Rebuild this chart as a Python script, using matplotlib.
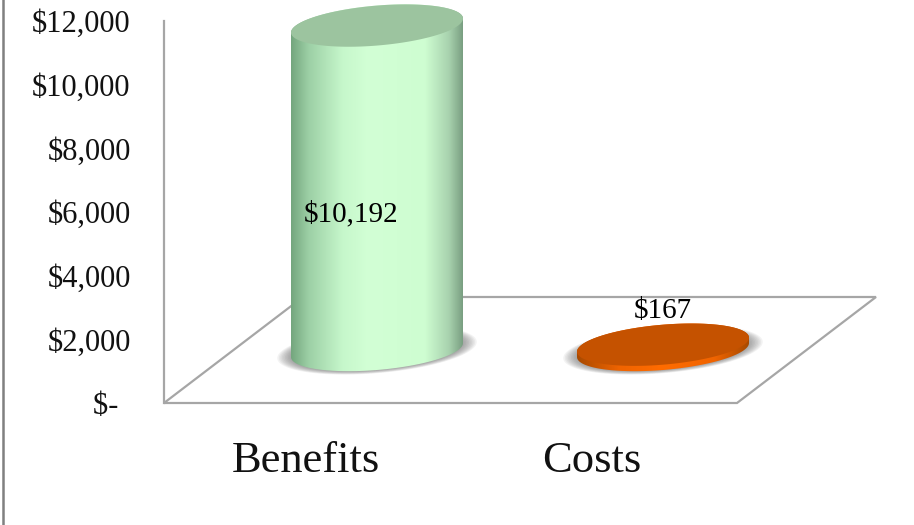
import numpy as np
import matplotlib
matplotlib.use("Agg")
import matplotlib.pyplot as plt
from matplotlib.colors import LinearSegmentedColormap
from matplotlib.lines import Line2D
from matplotlib.patches import Polygon
from matplotlib.transforms import ScaledTranslation

categories = ["Benefits", "Costs"]
values = [10192, 167]
value_labels = ["$10,192", "$167"]
yticks = [0, 2000, 4000, 6000, 8000, 10000, 12000]
yticklabels = ["$-  ", "$2,000", "$4,000", "$6,000", "$8,000", "$10,000", "$12,000"]

plt.rcParams["font.family"] = ["Liberation Serif", "DejaVu Serif"]

W, H = 914, 525
fig = plt.figure(figsize=(W / 100, H / 100), dpi=100)

# axes box in pixels, x unit = distance between the two cylinders
left, right, top, bottom = 164, 900, 21, 403
ax = fig.add_axes([left / W, 1 - bottom / H, (right - left) / W, (bottom - top) / H])
px_per_cat = 286.0
px_per_val = (bottom - top) / 12000.0
ax.set_xlim((left - 377) / px_per_cat, (right - 377) / px_per_cat)
ax.set_ylim(0, 12000)

# fake 3d settings
half_w = 86 / px_per_cat
half_h = 20 / px_per_val
tilt = 7 / px_per_val
floor_y = 53 / px_per_val
label_shift = 0.25
xf0 = (left - 377) / px_per_cat
xf1 = (737 - 377) / px_per_cat
xf2 = (876 - 377) / px_per_cat
xf3 = (303 - 377) / px_per_cat
yf_back = 106 / px_per_val


def ellipse(cx, cy, scale=1.0, t=None):
    if t is None:
        t = np.linspace(0, 2 * np.pi, 200)
    xs = cx + scale * half_w * np.cos(t)
    ys = cy + scale * (half_h * np.sin(t) + tilt * np.cos(t))
    return np.column_stack([xs, ys])


# floor
ax.add_patch(Polygon([(xf0, 0), (xf1, 0), (xf2, yf_back), (xf3, yf_back)], closed=True,
                     facecolor="white", edgecolor="#a6a6a6", lw=1.6, clip_on=False, zorder=1))

maps = [
    LinearSegmentedColormap.from_list("g", [(0, "#74a67e"), (0.1, "#9ccfa5"), (0.3, "#c6f7cb"), (0.45, "#d2ffd5"),
                                            (0.78, "#cefdd1"), (0.92, "#a8d2ae"), (1, "#7a9f82")]),
    LinearSegmentedColormap.from_list("o", [(0, "#a84a00"), (0.25, "#f06400"), (0.5, "#ff6c00"),
                                            (0.8, "#f06400"), (1, "#a84a00")]),
]
top_colors = ["#9cc49f", "#c55200"]
grad = np.linspace(0, 1, 256).reshape(1, -1)

for i, v in enumerate(values):
    # soft shadow round the foot
    for s in np.linspace(1.16, 1.0, 10):
        ax.add_patch(Polygon(ellipse(i, floor_y, s), closed=True, facecolor="#555555", alpha=0.07,
                             edgecolor="none", clip_on=False, zorder=2))
    low = ellipse(i, floor_y, 1.0, np.linspace(np.pi, 2 * np.pi, 100))
    up = ellipse(i, floor_y + v, 1.0, np.linspace(0, np.pi, 100))
    body = Polygon(np.vstack([low, up]), closed=True, transform=ax.transData, facecolor="none", edgecolor="none")
    ax.add_patch(body)
    body.set_clip_on(False)
    im = ax.imshow(grad, cmap=maps[i], aspect="auto", zorder=3,
                   extent=[i - half_w, i + half_w, 0, floor_y + v + half_h + tilt])
    im.set_clip_path(body)
    im.set_clip_box(fig.bbox)
    ax.add_patch(Polygon(ellipse(i, floor_y + v), closed=True, facecolor=top_colors[i], edgecolor="none",
                         clip_on=False, zorder=4))

ax.set_xlim((left - 377) / px_per_cat, (right - 377) / px_per_cat)
ax.set_ylim(0, 12000)

# value labels
ax.text(0 - 26 / px_per_cat, 5920, value_labels[0], ha="center", va="center", fontsize=21, color="black", zorder=6)
ax.text(1, 2890, value_labels[1], ha="center", va="center", fontsize=21, color="black", zorder=6)

# axes dressing
ax.set_yticks(yticks)
ax.set_yticklabels(yticklabels, fontsize=22, color="#111111")
ax.set_xticks([i - label_shift for i in range(len(categories))])
ax.set_xticklabels(categories, fontsize=32, color="#111111")
ax.tick_params(axis="y", length=0, pad=24)
ax.tick_params(axis="x", length=0, pad=27)
ax.patch.set_alpha(0)
for side in ["top", "right", "bottom"]:
    ax.spines[side].set_visible(False)
ax.spines["left"].set_color("#a6a6a6")
ax.spines["left"].set_linewidth(1.6)

# the dollar-dash label sits a bit further right
lab = ax.get_yticklabels()[0]
lab.set_transform(lab.get_transform() + ScaledTranslation(3 / 100, 0, fig.dpi_scale_trans))

# outer chart border, only the left edge is in the crop
fig.add_artist(Line2D([3 / W, 3 / W], [0, 1], color="#808080", lw=1.8))

fig.savefig("out.png", dpi=100)
